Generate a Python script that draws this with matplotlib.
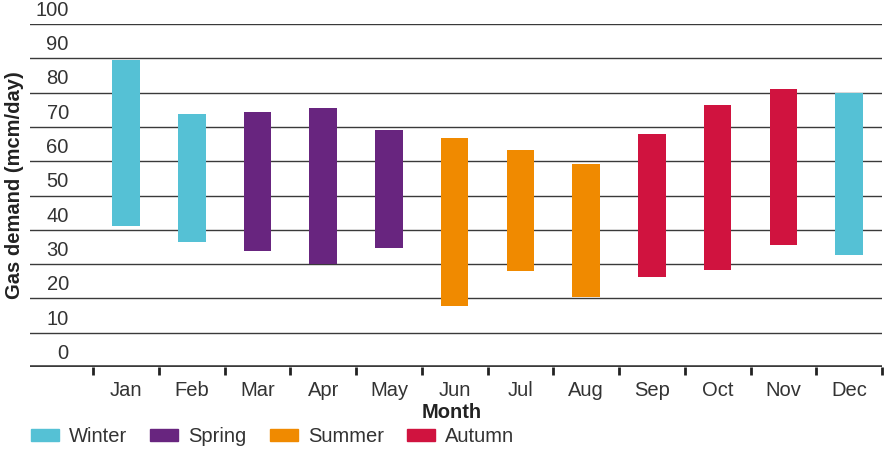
import matplotlib.pyplot as plt
from matplotlib.patches import Patch

# Data
months = ['Jan', 'Feb', 'Mar', 'Apr', 'May', 'Jun', 'Jul', 'Aug', 'Sep', 'Oct', 'Nov', 'Dec']
low = [41.2, 36.5, 33.9, 30.0, 34.8, 17.9, 28.1, 20.5, 26.3, 28.4, 35.7, 32.7]
high = [89.5, 73.8, 74.3, 75.5, 69.1, 66.8, 63.3, 59.2, 67.9, 76.4, 81.0, 79.9]
season = ['Winter', 'Winter', 'Spring', 'Spring', 'Spring', 'Summer',
          'Summer', 'Summer', 'Autumn', 'Autumn', 'Autumn', 'Winter']
seasons = ['Winter', 'Spring', 'Summer', 'Autumn']
season_colors = {'Winter': '#55C1D5', 'Spring': '#68257F',
                 'Summer': '#F08A00', 'Autumn': '#D0133F'}
yticks = list(range(0, 101, 10))

plt.rcParams['font.family'] = ['Liberation Sans', 'DejaVu Sans']
txt = '#333333'
fs = 14.5

fig = plt.figure(figsize=(8.88, 4.54), dpi=100)
ax = fig.add_axes([30 / 888, 1 - 367 / 454, 852 / 888, 343 / 454])

x = list(range(len(months)))
heights = [h - l for h, l in zip(high, low)]
ax.bar(x, heights, bottom=low, width=0.42,
       color=[season_colors[s] for s in season], zorder=3)

# gridlines with labels sitting above them
for v in yticks:
    ax.axhline(v, color='#3a3a3a', lw=1.0 if v else 2.6, zorder=2)
    ax.text(-0.87, v + 1.2, str(v), ha='right', va='bottom',
            fontsize=fs, color=txt)

ax.set_xlim(-1.46, 11.5)
ax.set_ylim(0, 100)
for s in ax.spines.values():
    s.set_visible(False)
ax.set_yticks([])
ax.set_xticks([i + 0.5 for i in range(-1, 12)], minor=True)
ax.set_xticks(x)
ax.set_xticklabels(months, fontsize=fs, color=txt)
ax.tick_params(axis='x', which='major', length=0, pad=10)
ax.tick_params(axis='x', which='minor', length=6, width=2, color='#222222')
ax.set_xlabel('Month', fontsize=fs, fontweight='bold', color='#222222')
ax.xaxis.set_label_coords(0.495, -0.105)

fig.text(15 / 888, 1 - 185 / 454, 'Gas demand (mcm/day)', rotation=90,
         ha='center', va='center', fontsize=fs, fontweight='bold', color='#222222')

handles = [Patch(color=season_colors[s], label=s) for s in seasons]
leg = fig.legend(handles=handles, loc='center left', ncol=4, frameon=False,
                 bbox_to_anchor=(31 / 888, 1 - 437 / 454), fontsize=fs,
                 handlelength=1.39, handleheight=0.55, handletextpad=0.5,
                 columnspacing=1.15, borderaxespad=0, borderpad=0)
for t in leg.get_texts():
    t.set_color(txt)

fig.savefig('out.png', dpi=100)
